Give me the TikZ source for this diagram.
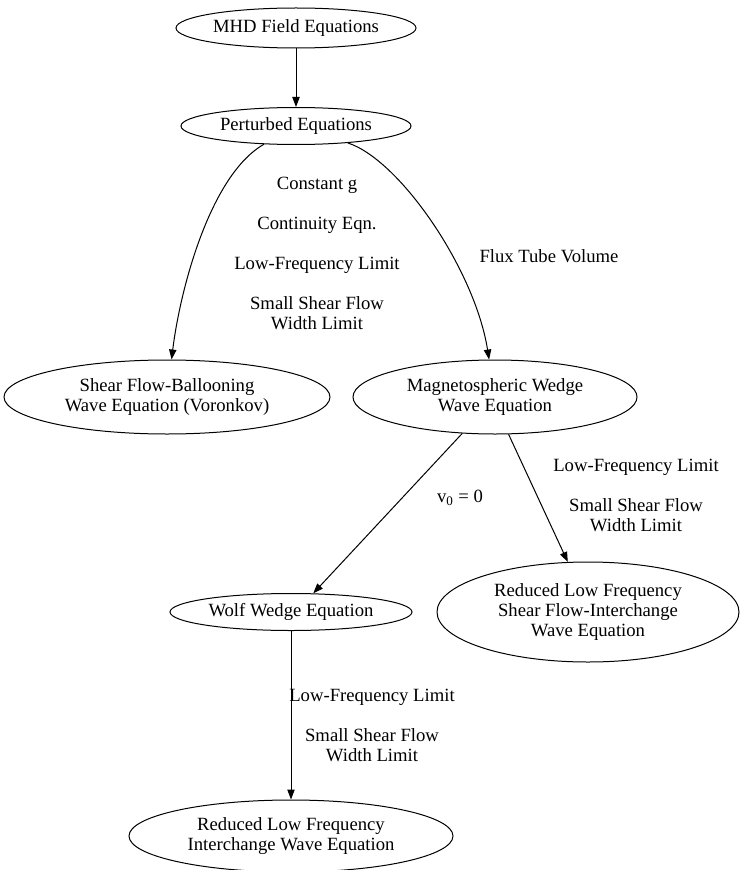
\documentclass[tikz,border=0pt]{standalone}
\usepackage{fontspec}
\setmainfont{Liberation Serif}
\usepackage{tikz}
\usetikzlibrary{arrows.meta, shapes.geometric}
\tikzset{
  eq/.style 2 args={
    ellipse, draw, line width=0.75pt, inner sep=0pt,
    minimum width=#1, minimum height=#2, align=center,
    font=\fontsize{14}{15}\selectfont
  },
  lbl/.style={align=center, inner sep=0pt, font=\fontsize{14}{15}\selectfont},
  arr/.style={-{Triangle[length=7.5pt, width=5.5pt]}, line width=0.75pt},
}

\begin{document}
\begin{tikzpicture}[x=0.75pt, y=-0.75pt]
\useasboundingbox (0,0) rectangle (744,870);

\node[eq={180pt}{30pt}] at (296,28) (mhd) {MHD Field Equations};
\node[eq={172.5pt}{27.75pt}] at (296,126) (pert) {Perturbed Equations};
\node[eq={244.5pt}{55.5pt}] at (167,397) (shear) {Shear Flow-Ballooning\\Wave Equation (Voronkov)};
\node[eq={213pt}{55.5pt}] at (495,397) (wedge) {Magnetospheric Wedge\\Wave Equation};
\node[eq={181.5pt}{27.75pt}] at (291,612) (wolf) {Wolf Wedge Equation};
\node[eq={226.5pt}{75pt}] at (588,612) (rsfi) {Reduced Low Frequency\\Shear Flow-Interchange\\Wave Equation};
\node[eq={243pt}{54pt}] at (291,836) (riwe) {Reduced Low Frequency\\Interchange Wave Equation};

% edges
\draw[arr] (mhd) -- (pert);
\draw[arr] (pert) .. controls (210,175) and (180,290) .. (shear);
\draw[arr] (pert) .. controls (400,160) and (475,270) .. (wedge);
\draw[arr] (wedge.228) -- (wolf.40);
\draw[arr] (wedge.290) -- (rsfi.112);
\draw[arr] (wolf) -- (riwe);

% edge labels
\node[lbl] at (317,253) (lshear) {Constant g\\[15pt]Continuity Eqn.\\[15pt]Low-Frequency Limit\\[15pt]Small Shear Flow\\Width Limit};
\node[lbl] at (549,256) (lwedge) {Flux Tube Volume};
\node[lbl] at (460,498) (lwolf) {v\textsubscript{0} = 0};
\node[lbl] at (636,495) (lrsfi) {Low-Frequency Limit\\[15pt]Small Shear Flow\\Width Limit};
\node[lbl] at (372,725) (lriwe) {Low-Frequency Limit\\[15pt]Small Shear Flow\\Width Limit};

\end{tikzpicture}
\end{document}
